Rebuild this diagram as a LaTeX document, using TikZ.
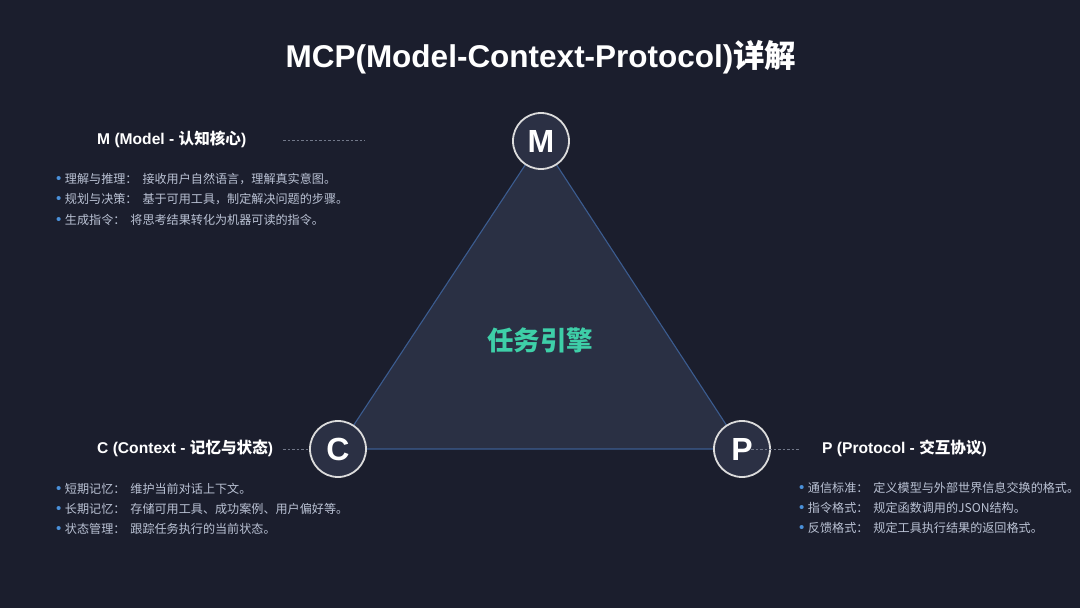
\documentclass[tikz,border=0pt]{standalone}
\usepackage{fontspec}
\setmainfont{Liberation Sans}
\newfontfamily\cjk{Noto Sans CJK SC}
\definecolor{bg}{HTML}{1B1E2D}
\definecolor{trifill}{HTML}{2A3044}
\definecolor{triedge}{HTML}{3B5C90}
\definecolor{circfill}{HTML}{2B3044}
\definecolor{circedge}{HTML}{DCDCDC}
\definecolor{txt}{HTML}{BAC2D4}
\definecolor{bul}{HTML}{4A90D9}
\definecolor{teal}{HTML}{3ECFA8}
\definecolor{dashc}{HTML}{727889}
\newcommand{\bl}[2]{{\color{bul}\fontsize{15}{15}\selectfont •}\hspace{3.5pt}{\cjk #1\hspace{5pt}#2}}
\begin{document}
\begin{tikzpicture}[x=1pt,y=-1pt,
  vert/.style={circle,draw=circedge,line width=1.8pt,fill=circfill,minimum size=56pt,inner sep=0pt,text=white,font=\fontsize{32}{34}\selectfont\bfseries},
  head/.style={anchor=west,inner sep=0pt,text=white,font=\fontsize{15.6}{18}\selectfont\bfseries},
  item/.style={anchor=west,inner sep=0pt,text=txt,font=\fontsize{12.1}{15}\selectfont},
  dashline/.style={draw=dashc,line width=0.9pt,dash pattern=on 2.5pt off 2pt}]
\fill[bg] (0,0) rectangle (1080,608);
\useasboundingbox (0,0) rectangle (1080,608);
% title
\node[inner sep=0pt,text=white,font=\fontsize{31.5}{34}\selectfont\bfseries] (title) at (541,57) {MCP(Model-Context-Protocol){\cjk 详解}};
% vertex positions
\coordinate (mc) at (541,141);
\coordinate (cc) at (338,449);
\coordinate (pc) at (742,449);
\fill[trifill] (mc) -- (cc) -- (pc) -- cycle;
\draw[triedge,line width=1.1pt,line join=round] (mc) -- (cc) -- (pc) -- cycle;
\node[text=teal,inner sep=0pt,font=\fontsize{26.5}{28}\selectfont\cjk\bfseries] (engine) at (540,340) {任务引擎};
% vertices
\node[vert] (M) at (mc) {M};
\node[vert] (C) at (cc) {C};
\node[vert] (P) at (pc) {P};
% M block
\node[head] (mh) at (97,139) {M (Model - {\cjk\bfseries 认知核心})};
\coordinate (md1) at (283,140);
\coordinate (md2) at (365,140);
\draw[dashline] (md1) -- (md2);
\node[item] (m1) at (56,179.5) {\bl{理解与推理：}{接收用户自然语言，理解真实意图。}};
\node[item] (m2) at (56,199.5) {\bl{规划与决策：}{基于可用工具，制定解决问题的步骤。}};
\node[item] (m3) at (56,219.5) {\bl{生成指令：}{将思考结果转化为机器可读的指令。}};
% C block
\node[head] (ch) at (97,448) {C (Context - {\cjk\bfseries 记忆与状态})};
\coordinate (cd1) at (283,449);
\draw[dashline] (cd1) -- (C.west);
\node[item] (c1) at (56,488.5) {\bl{短期记忆：}{维护当前对话上下文。}};
\node[item] (c2) at (56,508.5) {\bl{长期记忆：}{存储可用工具、成功案例、用户偏好等。}};
\node[item] (c3) at (56,528.5) {\bl{状态管理：}{跟踪任务执行的当前状态。}};
% P block
\node[head] (ph) at (822,448) {P (Protocol - {\cjk\bfseries 交互协议})};
\coordinate (pd1) at (751,449);
\coordinate (pd2) at (800,449);
\draw[dashline] (pd1) -- (pd2);
\node[item] (p1) at (799,488) {\bl{通信标准：}{定义模型与外部世界信息交换的格式。}};
\node[item] (p2) at (799,508) {\bl{指令格式：}{规定函数调用的JSON结构。}};
\node[item] (p3) at (799,527.5) {\bl{反馈格式：}{规定工具执行结果的返回格式。}};
\end{tikzpicture}
\end{document}
